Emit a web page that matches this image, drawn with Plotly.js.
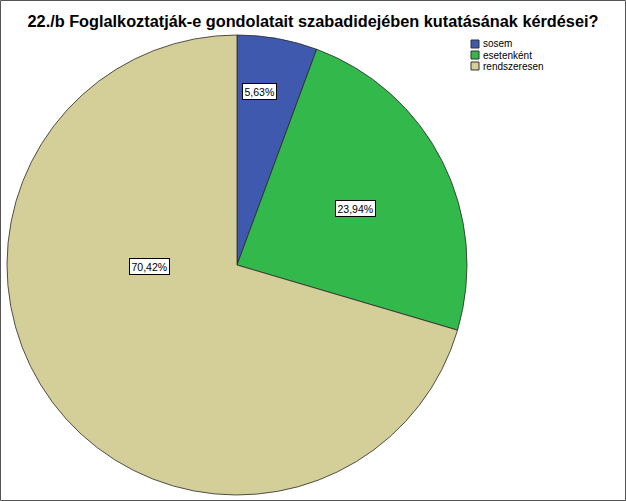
<!DOCTYPE html>
<html>
<head>
<meta charset="utf-8">
<script src="https://cdn.plot.ly/plotly-3.0.1.min.js"></script>
<style>
html,body{margin:0;padding:0;background:#fff;}
#chart{width:626px;height:501px;}
</style>
</head>
<body>
<div id="chart"></div>
<script>
var titleText = "22./b Foglalkoztatják-e gondolatait szabadidejében kutatásának kérdései?";
var categories = ["sosem", "esetenként", "rendszeresen"];
var values = [5.63, 23.94, 70.42];
var valueLabels = ["5,63%", "23,94%", "70,42%"];
var colors = ["#3e59ad", "#32b84b", "#d4ce98"];

var W = 626, H = 501;
function px(x){ return x / W; }
function py(y){ return 1 - y / H; }

var trace = {
  type: "pie",
  labels: categories,
  values: values,
  sort: false,
  direction: "clockwise",
  rotation: 0,
  textinfo: "none",
  hoverinfo: "label+percent",
  showlegend: false,
  marker: { colors: colors, line: { color: "#2a2a2a", width: 0.8 } },
  domain: { x: [px(7), px(467)], y: [py(495), py(35)] }
};

// label box positions (pixel centres in reference)
var labelPos = [[259, 91.5], [355, 209], [149, 266]];
var annotations = [];
var shapes = [{
  type: "rect", xref: "paper", yref: "paper",
  x0: px(0.5), x1: px(W - 0.5), y0: py(H - 0.5), y1: py(0.5),
  line: { color: "#555555", width: 1 }, fillcolor: "rgba(0,0,0,0)"
}];
for (var i = 0; i < categories.length; i++) {
  annotations.push({
    xref: "paper", yref: "paper",
    x: px(labelPos[i][0]), y: py(labelPos[i][1]),
    xanchor: "center", yanchor: "middle",
    text: valueLabels[i], showarrow: false,
    font: { family: "Liberation Sans, Arial, sans-serif", size: 10.5, color: "#000" },
    bgcolor: "#ffffff", bordercolor: "#000000", borderwidth: 1, borderpad: 1.5
  });
  // custom legend
  var ly = 44 + i * 11;
  shapes.push({
    type: "rect", xref: "paper", yref: "paper",
    x0: px(471), x1: px(479), y0: py(ly + 4), y1: py(ly - 4),
    fillcolor: colors[i], line: { color: "#333", width: 1 }
  });
  annotations.push({
    xref: "paper", yref: "paper",
    x: px(481), y: py(ly),
    xanchor: "left", yanchor: "middle",
    text: categories[i], showarrow: false,
    font: { family: "Liberation Sans, Arial, sans-serif", size: 10, color: "#000" }
  });
}

var layout = {
  width: W, height: H,
  margin: { l: 0, r: 0, t: 0, b: 0 },
  paper_bgcolor: "#ffffff",
  title: {
    text: "<b>" + titleText + "</b>",
    x: px(313), xanchor: "center",
    y: py(21), yanchor: "middle",
    font: { family: "Liberation Sans, Arial, sans-serif", size: 16.3, color: "#000" }
  },
  annotations: annotations,
  shapes: shapes,
  showlegend: false
};

Plotly.newPlot("chart", [trace], layout, { displayModeBar: false, staticPlot: true });
</script>
</body>
</html>
